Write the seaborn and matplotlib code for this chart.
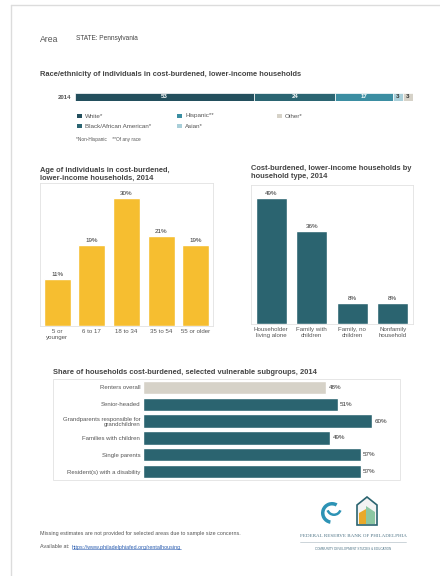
import matplotlib
matplotlib.use("Agg")
import matplotlib.pyplot as plt
import seaborn as sns
import pandas as pd
import numpy as np
from matplotlib.patches import Rectangle, Polygon, Wedge
from matplotlib.lines import Line2D

sns.set_theme(style="white")
plt.rcParams['font.family'] = ['Liberation Sans', 'DejaVu Sans']

# ---------------- data ----------------
race_labels = ["White*", "Black/African American*", "Hispanic**", "Asian*", "Other*"]
race_values = [53, 24, 17, 3, 3]
race_colors = ["#234f5d", "#2b6572", "#3b8ea2", "#a9cfd9", "#d6d2c8"]

age_labels = ["5 or\nyounger", "6 to 17", "18 to 34", "35 to 54", "55 or older"]
age_values = [11, 19, 30, 21, 19]

hh_labels = ["Householder\nliving alone", "Family with\nchildren", "Family, no\nchildren", "Nonfamily\nhousehold"]
hh_values = [49, 36, 8, 8]

sub_labels = ["Renters overall", "Senior-headed", "Grandparents responsible for\ngrandchildren",
              "Families with children", "Single parents", "Resident(s) with a disability"]
sub_values = [48, 51, 60, 49, 57, 57]
sub_colors = ["#d6d2c8", "#2b6470", "#2b6470", "#2b6470", "#2b6470", "#2b6470"]

GOLD = "#f6be30"
TEAL = "#2b6470"
TITLE_C = "#444444"
TICK_C = "#555555"
FRAME_C = "#e2e2e2"
TITLE_FS = 5.4

W, H = 440, 576
fig = plt.figure(figsize=(W / 100, H / 100), dpi=100)
fig.patch.set_facecolor("white")


def ax_px(x0, y0, x1, y1):
    return fig.add_axes([x0 / W, 1 - y1 / H, (x1 - x0) / W, (y1 - y0) / H])


def ftext(x, y, s, **kw):
    kw.setdefault("va", "center")
    kw.setdefault("ha", "left")
    return fig.text(x / W, 1 - y / H, s, **kw)


def frect(x0, y0, x1, y1, **kw):
    r = Rectangle((x0 / W, 1 - y1 / H), (x1 - x0) / W, (y1 - y0) / H,
                  transform=fig.transFigure, **kw)
    fig.patches.append(r)
    return r


# page border
fig.add_artist(Line2D([11 / W, 11 / W], [0, 1 - 5 / H], color="#dcdcdc", lw=1, transform=fig.transFigure))
fig.add_artist(Line2D([11 / W, 1], [1 - 5 / H, 1 - 5 / H], color="#dcdcdc", lw=1, transform=fig.transFigure))

# header
ftext(40, 40, "Area", fontsize=6.2, color="#555555")
ftext(76, 39, "STATE: Pennsylvania", fontsize=4.7, color="#444444")

# ---------------- race stacked bar ----------------
ftext(40, 74, "Race/ethnicity of individuals in cost-burdened, lower-income households",
      fontsize=TITLE_FS, fontweight="bold", color=TITLE_C)
ax_r = ax_px(75, 92.5, 413, 101)
lefts = np.concatenate([[0], np.cumsum(race_values)[:-1]])
for lab, v, l, c in zip(race_labels, race_values, lefts, race_colors):
    ax_r.barh([0], [v], left=[l], height=1.0, color=c, edgecolor="white", linewidth=0.5)
    tc = "white" if v > 5 else "#333333"
    ax_r.text(l + v / 2, 0, str(v), ha="center", va="center", fontsize=4.4,
              fontweight="bold", color=tc)
ax_r.set_xlim(0, 100)
ax_r.set_ylim(-0.5, 0.5)
ax_r.set_yticks([0])
ax_r.set_yticklabels(["2014"], fontsize=4.4, color=TICK_C, fontweight="bold")
ax_r.tick_params(axis="y", length=0, pad=3)
ax_r.set_xticks([])
for s in ax_r.spines.values():
    s.set_visible(False)

# legend (manual)
for i, (lab, c) in enumerate(zip(race_labels, race_colors)):
    col, row = i // 2, i % 2
    x = 77 + 100 * col
    y = 116 + 10 * row
    frect(x, y - 2.3, x + 4.6, y + 2.3, facecolor=c, edgecolor="none")
    ftext(x + 8, y, lab, fontsize=4.5, color=TICK_C)
ftext(76, 139, "*Non-Hispanic    **Of any race", fontsize=3.4, color=TICK_C)

# ---------------- age chart ----------------
ftext(40, 170, "Age of individuals in cost-burdened,", fontsize=TITLE_FS, fontweight="bold", color=TITLE_C)
ftext(40, 178.5, "lower-income households, 2014", fontsize=TITLE_FS, fontweight="bold", color=TITLE_C)
ax_a = ax_px(40, 183, 213, 326)
df_a = pd.DataFrame({"cat": age_labels, "val": age_values})
sns.barplot(data=df_a, x="cat", y="val", color=GOLD, saturation=1, width=0.78, ax=ax_a)
ax_a.set_ylim(0, 33.5)
for i, v in enumerate(age_values):
    ax_a.text(i, v + 0.5, f"{v}%", ha="center", va="bottom", fontsize=4.5, color="#333333")
ax_a.set_xlabel("")
ax_a.set_ylabel("")
ax_a.set_yticks([])
ax_a.tick_params(axis="x", labelsize=4.4, colors=TICK_C, length=0, pad=2)
for s in ax_a.spines.values():
    s.set_color(FRAME_C)
    s.set_linewidth(0.6)

# ---------------- household chart ----------------
ftext(251, 168, "Cost-burdened, lower-income households by", fontsize=TITLE_FS, fontweight="bold", color=TITLE_C)
ftext(251, 176.5, "household type, 2014", fontsize=TITLE_FS, fontweight="bold", color=TITLE_C)
ax_h = ax_px(251, 185, 413, 324)
df_h = pd.DataFrame({"cat": hh_labels, "val": hh_values})
sns.barplot(data=df_h, x="cat", y="val", color=TEAL, saturation=1, width=0.76, ax=ax_h)
ax_h.set_ylim(0, 54)
for i, v in enumerate(hh_values):
    ax_h.text(i, v + 0.8, f"{v}%", ha="center", va="bottom", fontsize=4.5, color="#333333")
ax_h.set_xlabel("")
ax_h.set_ylabel("")
ax_h.set_yticks([])
ax_h.tick_params(axis="x", labelsize=4.4, colors=TICK_C, length=0, pad=2)
for s in ax_h.spines.values():
    s.set_color(FRAME_C)
    s.set_linewidth(0.6)

# ---------------- subgroups chart ----------------
ftext(53, 373, "Share of households cost-burdened, selected vulnerable subgroups, 2014",
      fontsize=TITLE_FS, fontweight="bold", color=TITLE_C)
frect(53, 379, 400, 480, facecolor="none", edgecolor=FRAME_C, linewidth=0.6)
ax_s = ax_px(143, 379, 400, 480)
df_s = pd.DataFrame({"cat": sub_labels, "val": sub_values})
sns.barplot(data=df_s, y="cat", x="val", hue="cat", palette=sub_colors, saturation=1,
            width=0.8, legend=False, orient="h", ax=ax_s)
ax_s.set_xlim(0, 67.3)
for i, v in enumerate(sub_values):
    ax_s.text(v + 0.6, i, f"{v}%", ha="left", va="center", fontsize=4.5, color="#333333")
ax_s.set_xlabel("")
ax_s.set_ylabel("")
ax_s.set_xticks([])
ax_s.tick_params(axis="y", labelsize=4.3, colors=TICK_C, length=0, pad=2)
for lab in ax_s.get_yticklabels():
    lab.set_multialignment("right")
for s in ax_s.spines.values():
    s.set_visible(False)

# ---------------- footer ----------------
ftext(40, 534, "Missing estimates are not provided for selected areas due to sample size concerns.",
      fontsize=3.85, color=TICK_C)
ftext(40, 547, "Available at: ", fontsize=3.85, color=TICK_C)
url = ftext(72, 547, "https://www.philadelphiafed.org/rentalhousing", fontsize=3.85, color="#2a5db0")
fig.canvas.draw()
bb = url.get_window_extent(renderer=fig.canvas.get_renderer())
x0f, x1f = bb.x0 / (W), bb.x1 / (W)
yline = bb.y0 / H + 0.2 / H
fig.add_artist(Line2D([x0f, x1f], [yline, yline], color="#2a5db0", lw=0.4,
                      transform=fig.transFigure))

# logo
ax_l = ax_px(290, 490, 415, 560)
ax_l.set_xlim(290, 415)
ax_l.set_ylim(560, 490)
ax_l.axis("off")
ax_l.add_patch(Wedge((332, 513), 11, 100, 300, width=3.5, facecolor="#2d93b5", edgecolor="none"))
ax_l.add_patch(Wedge((334, 508), 8, 20, 160, width=2.5, facecolor="#2d93b5", edgecolor="none"))
ax_l.add_patch(Polygon([[357, 525], [357, 505], [367, 497], [377, 505], [377, 525]], closed=True,
                       facecolor="#f3f3f3", edgecolor="#2b6470", linewidth=1.2))
ax_l.add_patch(Polygon([[359, 524], [359, 513], [366, 509], [366, 524]], closed=True,
                       facecolor="#e9a92a", edgecolor="none"))
ax_l.add_patch(Polygon([[366, 524], [366, 506], [375, 512], [375, 524]], closed=True,
                       facecolor="#8cc7a2", edgecolor="none"))
ax_l.text(353, 536, "FEDERAL RESERVE BANK OF PHILADELPHIA", ha="center", va="center",
          fontsize=3.6, color="#4d7385", family="Liberation Serif")
ax_l.plot([300, 406], [542, 542], color="#b8c4ca", lw=0.5)
ax_l.text(353, 549, "COMMUNITY DEVELOPMENT STUDIES & EDUCATION", ha="center", va="center",
          fontsize=2.2, color="#4d7385")

fig.savefig("out.png", dpi=100, facecolor="white")
